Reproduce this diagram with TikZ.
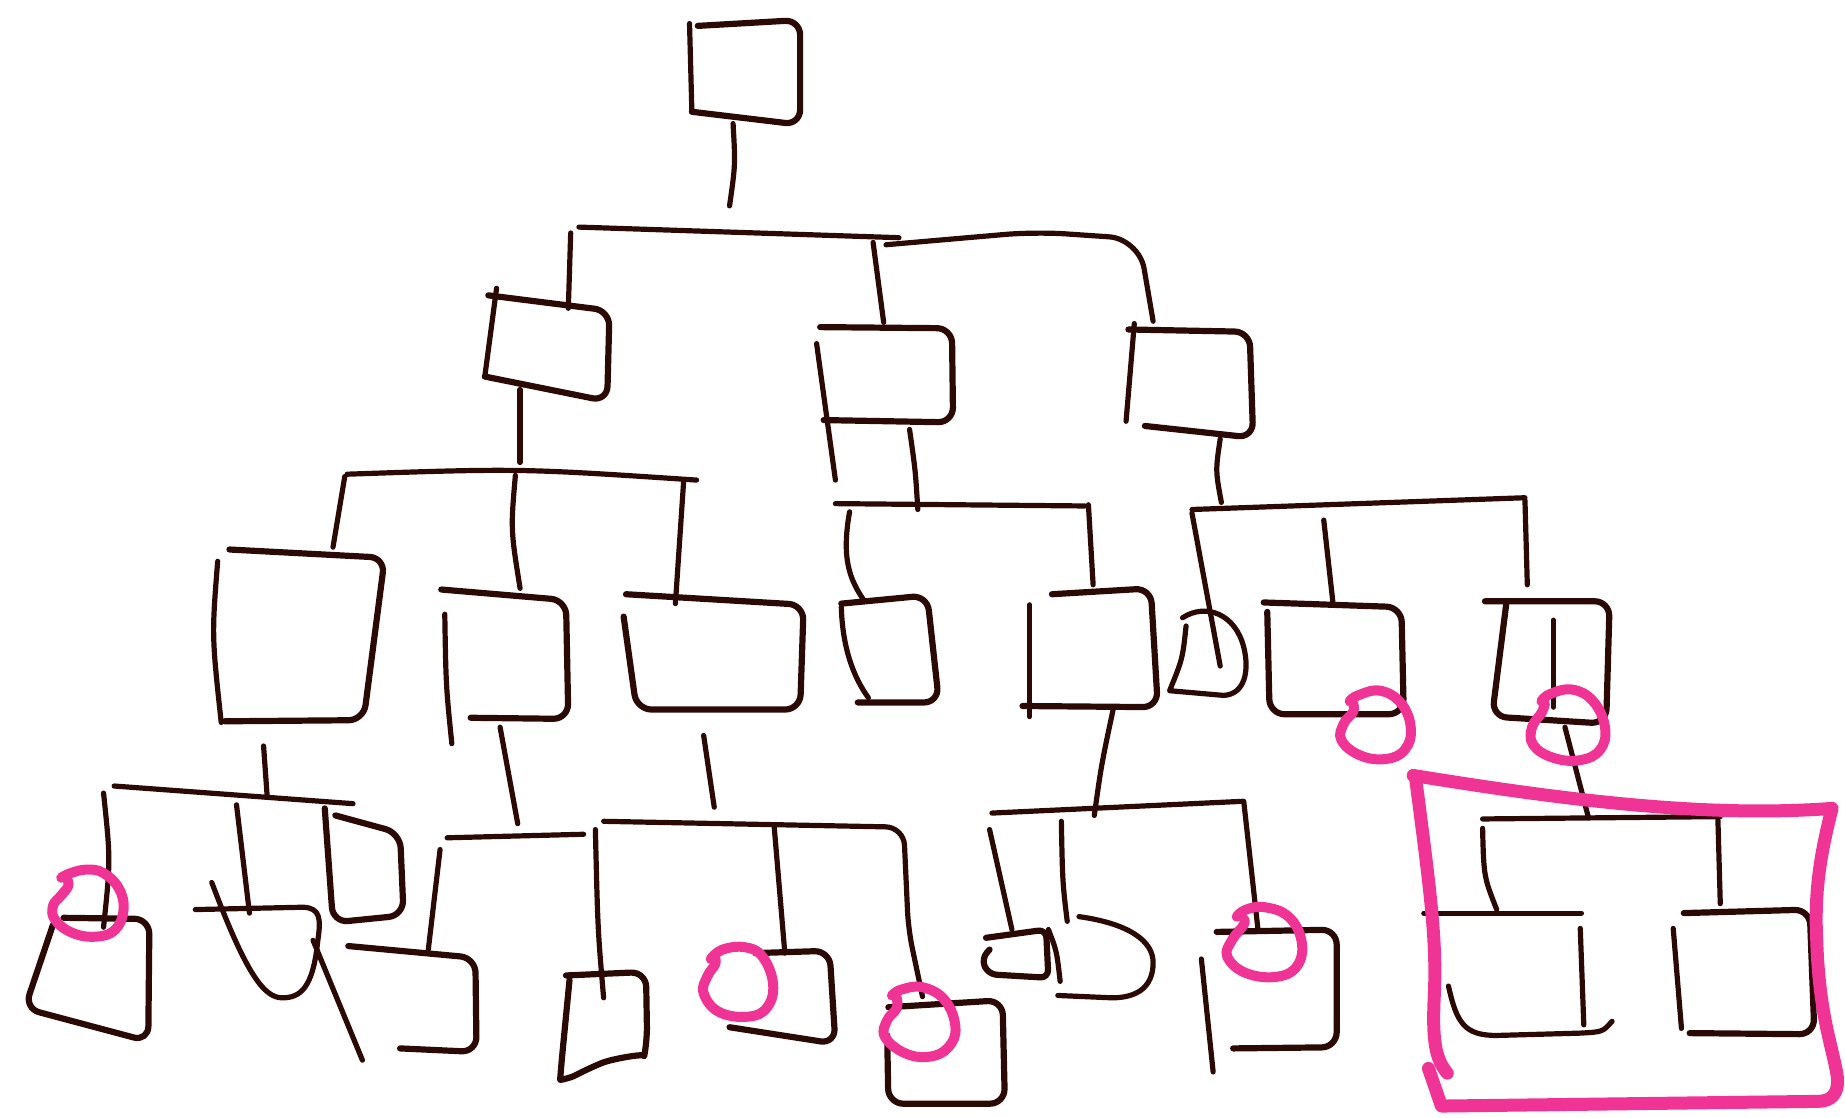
\documentclass[tikz,border=0pt]{standalone}
\definecolor{ink}{RGB}{43,10,6}
\definecolor{hot}{RGB}{240,52,150}
\begin{document}
\begin{tikzpicture}[x=1.1767pt,y=-1.1767pt,line cap=round,line join=round,
  ln/.style={ink,line width=5.2pt},
  bx/.style={ink,line width=6.2pt,rounded corners=15pt},
  ring/.style={hot,line width=10pt},
  hlbox/.style={hot,line width=13pt}]
\useasboundingbox (0,0) rectangle (1568,950);
\foreach \xa/\ya/\xb/\yb in {586/20/588/95, 492/193/764/202, 485/198/483/262, 742/206/751/274,
  422/245/412/320, 442/331/442/393, 694/292/710/408, 964/275/957/358, 293/405/283/465,
  581/409/574/513, 710/428/922/430, 925/429/929/497, 1013/433/1296/423, 1013/436/1037/566,
  1125/442/1133/514, 1296/425/1298/497, 224/634/227/676, 425/618/440/700, 598/625/607/686,
  875/514/875/609, 1320/527/1320/601, 1330/618/1350/695, 97/668/300/683, 201/684/212/776,
  266/799/308/901, 380/712/496/709, 374/722/364/807, 658/703/667/810, 843/691/1056/681,
  841/705/860/790, 1057/681/1069/789, 1021/815/1031/911, 1260/696/1462/694, 1460/697/1462/768,
  1210/776/1344/776, 1343/789/1346/871, 1422/789/1429/874}
  \draw[ln] (\xa,\ya) -- (\xb,\yb);
\draw[ln] (623,105) .. controls (625,140) .. (620,175);
\draw[ln] (295,403) .. controls (442,398) .. (592,408);
\draw[ln] (438,404) .. controls (434,450) .. (442,500);
\draw[ln] (773,365) .. controls (778,400) .. (780,433);
\draw[ln] (1037,373) .. controls (1033,400) .. (1038,427);
\draw[ln] (722,435) .. controls (715,475) and (722,492) .. (734,510);
\draw[ln] (946,603) .. controls (936,650) .. (930,693);
\draw[ln] (88,674) .. controls (94,731) .. (88,788);
\draw[ln] (506,705) .. controls (508,790) .. (513,848);
\draw[ln] (902,698) .. controls (903,750) .. (907,783);
\draw[ln] (891,790) .. controls (898,808) .. (901,834);
\draw[ln] (1260,704) .. controls (1261,745) .. (1272,773);
\draw[ln] (185,477) .. controls (180,540) .. (188,614);
\draw[ln] (378,522) .. controls (379,583) .. (384,632);
\draw[ln] (715,516) .. controls (716,550) and (725,575) .. (738,593);
\draw[ln,rounded corners=30pt] (753,208) -- (880,197) -- (968,203) -- (980,273);
\draw[ln,rounded corners=18pt] (513,698) -- (768,703) -- (772,790) -- (784,847);
% boxes
\draw[bx] (593,22) -- (680,17) -- (680,106) -- (588,95);
\draw[bx] (415,251) -- (518,264) -- (516,341) -- (412,320);
\draw[bx] (697,278) -- (809,279) -- (810,359) -- (700,357);
\draw[bx] (959,280) -- (1062,282) -- (1065,372) -- (973,362);
\draw[bx] (195,467) -- (327,474) -- (309,612) -- (191,613);
\draw[bx] (375,501) -- (481,510) -- (483,611) -- (400,610);
\draw[bx] (530,524) -- (541,603) -- (680,603) -- (683,514) -- (532,505);
\draw[bx] (715,513) -- (788,506) -- (798,597) -- (729,597);
\draw[bx] (894,505) -- (978,500) -- (984,601) -- (869,600);
\draw[ln] (1008,532) .. controls (1005,560) .. (994,587) -- (1040,591) .. controls (1058,590) and (1062,570) .. (1057,550) .. controls (1050,522) and (1025,512) .. (1005,525);
\draw[bx] (1077,520) -- (1079,607) -- (1193,607) -- (1191,516) -- (1074,512);
\draw[bx] (1280,514) -- (1268,609) -- (1365,615) -- (1368,511) -- (1262,511);
\draw[bx] (45,786) -- (21,857) -- (126,885) -- (127,781) -- (54,780);
\draw[ln] (166,773) -- (258,771) .. controls (272,772) and (273,780) .. (270,800) .. controls (266,840) and (255,848) .. (240,848) .. controls (225,848) and (210,830) .. (180,750);
\draw[bx] (285,693) -- (340,708) -- (343,778) -- (283,784) -- (276,687);
\draw[bx] (296,804) -- (404,814) -- (405,894) -- (340,891);
\draw[bx] (481,829) -- (549,826) -- (550,885) .. controls (548,895) and (520,900) .. (500,908) .. controls (485,916) and (476,918) .. (477,905) -- (484,833);
\draw[bx] (642,810) -- (705,808) -- (710,887) -- (620,873);
\draw[bx] (755,856) -- (852,850) -- (854,938) -- (755,938) -- (754,880);
\draw[bx,rounded corners=8pt] (838,797) -- (889,790) -- (891,831) -- (840,828) -- (834,815) -- (841,807);
\draw[ln] (917,779) .. controls (960,785) and (980,800) .. (980,818) .. controls (980,840) and (965,848) .. (945,848) -- (899,846);
\draw[bx] (1034,792) -- (1136,790) -- (1136,890) -- (1048,891);
\draw[ln] (1231,838) .. controls (1238,870) and (1245,880) .. (1272,880) -- (1343,878) .. controls (1362,877) .. (1370,868);
\draw[bx] (1431,776) -- (1538,773) -- (1542,879) -- (1436,878);
% highlights
\draw[ring] plot[smooth,tension=.7] coordinates {(52,746) (60,742) (74,739) (88,742) (101,755) (105,773) (98,790) (82,796) (62,793) (47,782) (45,770) (52,761) (58,753) (57,747)};
\draw[ring] plot[smooth,tension=.7] coordinates {(604,815) (614,807) (633,805) (648,813) (657,836) (652,856) (636,864) (611,860) (598,844) (601,830) (608,819) (607,813)};
\draw[ring] plot[smooth,tension=.7] coordinates {(758,846) (766,841) (784,839) (803,850) (812,873) (806,890) (790,898) (769,895) (752,881) (754,867) (762,857) (762,848)};
\draw[ring] plot[smooth,tension=.7] coordinates {(1051,779) (1059,773) (1075,771) (1095,779) (1106,799) (1103,820) (1086,830) (1059,827) (1043,813) (1047,799) (1057,786) (1057,781)};
\draw[ring] plot[smooth,tension=.7] coordinates {(1147,596) (1154,591) (1173,587) (1191,598) (1199,619) (1194,637) (1178,645) (1156,642) (1140,629) (1142,615) (1150,605) (1150,598)};
\draw[ring] plot[smooth,tension=.7] coordinates {(1310,596) (1317,590) (1336,586) (1354,596) (1364,618) (1360,637) (1343,646) (1320,644) (1303,633) (1302,618) (1310,606) (1313,598)};
\draw[hlbox] (1201,659) .. controls (1330,680) and (1450,695) .. (1557,687) .. controls (1546,730) and (1542,760) .. (1544,800) .. controls (1546,860) and (1556,885) .. (1561,912) .. controls (1564,930) and (1556,936) .. (1545,936) -- (1225,940) -- (1214,908);
\draw[hlbox] (1203,661) .. controls (1216,760) and (1221,800) .. (1219,845) .. controls (1217,885) and (1220,900) .. (1230,912);
\end{tikzpicture}
\end{document}
